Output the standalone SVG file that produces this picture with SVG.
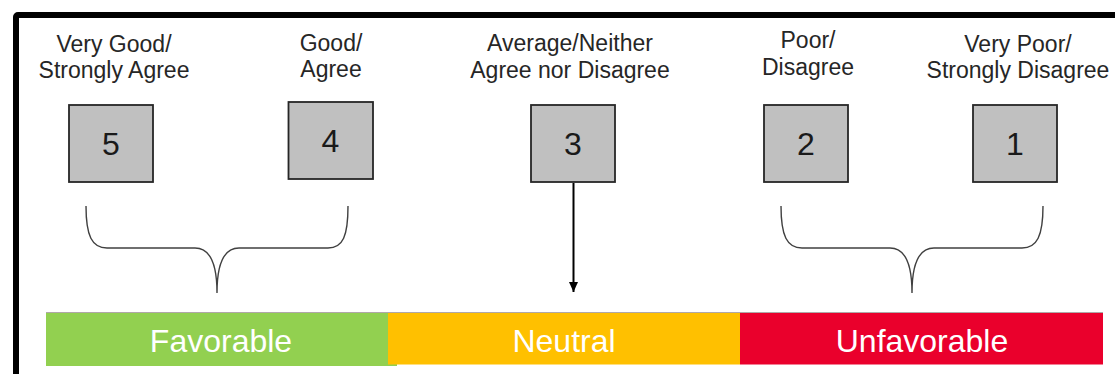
<svg xmlns="http://www.w3.org/2000/svg" width="1115" height="374" viewBox="0 0 1115 374">
  <style>
    .lbl { font-family: "Liberation Sans", Arial, sans-serif; font-size: 23px; fill: #262626; text-anchor: middle; }
    .num { font-family: "Liberation Sans", Arial, sans-serif; font-size: 32px; fill: #1a1a1a; text-anchor: middle; }
    .box { fill: #C0C0C0; stroke: #262626; stroke-width: 1.8; }
    .bar { font-family: "Liberation Sans", Arial, sans-serif; font-size: 32px; fill: #FFFFFF; text-anchor: middle; }
    .brace { fill: none; stroke: #404040; stroke-width: 1.4; }
  </style>
  <defs>
    <marker id="arrow" markerWidth="11" markerHeight="10" refX="10" refY="4.5" orient="auto" markerUnits="userSpaceOnUse" viewBox="0 0 11 10">
      <path d="M0,0 L10,4.5 L0,9 Z" fill="#000000"/>
    </marker>
  </defs>
  <rect width="1115" height="374" fill="#FFFFFF"/>
  <rect id="frame" x="16" y="15" width="1130" height="380" rx="2" fill="none" stroke="#000000" stroke-width="6"/>

  <g id="node-5">
    <text class="lbl" x="114" y="52">Very Good/</text>
    <text class="lbl" x="114" y="78">Strongly Agree</text>
    <rect class="box" x="69" y="105" width="84" height="77"/>
    <text class="num" x="111" y="155">5</text>
  </g>
  <g id="node-4">
    <text class="lbl" x="331" y="51">Good/</text>
    <text class="lbl" x="331" y="77">Agree</text>
    <rect class="box" x="288.5" y="102" width="84.5" height="77"/>
    <text class="num" x="330.5" y="152">4</text>
  </g>
  <g id="node-3">
    <text class="lbl" x="570" y="51">Average/Neither</text>
    <text class="lbl" x="570" y="78">Agree nor Disagree</text>
    <rect class="box" x="531" y="105" width="84" height="77"/>
    <text class="num" x="573" y="155">3</text>
  </g>
  <g id="node-2">
    <text class="lbl" x="808" y="48">Poor/</text>
    <text class="lbl" x="808" y="75">Disagree</text>
    <rect class="box" x="764" y="105" width="84" height="77"/>
    <text class="num" x="806" y="155">2</text>
  </g>
  <g id="node-1">
    <text class="lbl" x="1018" y="52">Very Poor/</text>
    <text class="lbl" x="1018" y="78">Strongly Disagree</text>
    <rect class="box" x="973" y="105" width="84" height="77"/>
    <text class="num" x="1015" y="155">1</text>
  </g>

  <g id="connectors">
    <path class="brace" d="M86,206 C86,236 92,248 107,248 L195,248 C209,248 217,262 217,293 C217,262 225,248 239,248 L328,248 C343,248 348,236 348,206"/>
    <path class="brace" d="M781,206 C781,236 787,248 802,248 L890,248 C904,248 912,262 912,293 C912,262 920,248 934,248 L1022,248 C1037,248 1043,236 1043,206"/>
    <line x1="573.5" y1="183" x2="573.5" y2="292" stroke="#000000" stroke-width="2" marker-end="url(#arrow)"/>
  </g>

  <g id="scale-bar">
    <rect x="46" y="312" width="351" height="54" fill="#92D050"/>
    <rect x="388" y="312" width="352" height="52.5" fill="#FFC000"/>
    <rect x="740" y="312" width="363" height="52.5" fill="#EA002C"/>
    <line x1="46" y1="312.5" x2="1103" y2="312.5" stroke="#B0A8A8" stroke-width="1"/>
    <text class="bar" x="221" y="352">Favorable</text>
    <text class="bar" x="564" y="352">Neutral</text>
    <text class="bar" x="922" y="352">Unfavorable</text>
  </g>
</svg>
